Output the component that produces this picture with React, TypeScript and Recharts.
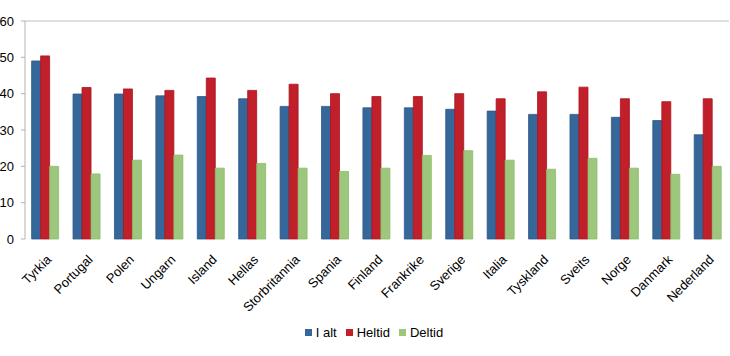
import React from 'react';
import { BarChart, Bar, XAxis, YAxis, Legend, ReferenceLine } from 'recharts';

const categories = ['Tyrkia', 'Portugal', 'Polen', 'Ungarn', 'Island', 'Hellas', 'Storbritannia', 'Spania', 'Finland', 'Frankrike', 'Sverige', 'Italia', 'Tyskland', 'Sveits', 'Norge', 'Danmark', 'Nederland'];
const iAlt = [49.0, 39.9, 39.9, 39.4, 39.2, 38.6, 36.5, 36.5, 36.1, 36.1, 35.7, 35.2, 34.3, 34.3, 33.5, 32.6, 28.7];
const heltid = [50.4, 41.7, 41.3, 40.9, 44.3, 40.9, 42.6, 40.0, 39.2, 39.2, 40.0, 38.6, 40.5, 41.8, 38.6, 37.8, 38.6];
const deltid = [20.0, 17.9, 21.7, 23.1, 19.5, 20.8, 19.5, 18.6, 19.5, 23.0, 24.3, 21.7, 19.2, 22.2, 19.5, 17.8, 20.0];
const yTicks = [0, 10, 20, 30, 40, 50, 60];
const seriesNames = ['I alt', 'Heltid', 'Deltid'];
const colors = ['#35679A', '#C11F2A', '#9DC77C'];
const strokes = ['#2C5886', '#A8141E', '#8DBB6C'];

const data = categories.map((c, i) => ({ name: c, a: iAlt[i], h: heltid[i], d: deltid[i], idx: i + 0.5 }));
const boundaryTicks = categories.map((_, i) => i).concat([categories.length]);

const FONT = 'Liberation Sans, Arial, sans-serif';

const XTick = (props: any) => {
  const { x, y, payload } = props;
  return (
    <g transform={`translate(${x},${y})`}>
      <text x={0} y={0} dx={-5} dy={14} textAnchor="end" transform="rotate(-45)" fontSize={13} fontFamily={FONT} fill="#000">
        {payload.value}
      </text>
    </g>
  );
};

const LegendContent = () => (
  <div style={{ display: 'flex', justifyContent: 'center', alignItems: 'center', fontFamily: FONT, fontSize: 13, color: '#000', paddingLeft: 28 }}>
    {seriesNames.map((n, i) => (
      <div key={n} style={{ display: 'flex', alignItems: 'center', marginRight: 9 }}>
        <span style={{ display: 'inline-block', width: 7, height: 7, background: colors[i], marginRight: 4 }} />
        <span>{n}</span>
      </div>
    ))}
  </div>
);

export default function App() {
  return (
    <div style={{ position: 'absolute', left: 0, top: 0, width: 730, height: 356, background: '#fff' }}>
      <BarChart width={730} height={356} data={data} margin={{ top: 21, right: 1, left: 0, bottom: 0 }} barCategoryGap="16%" barGap={0}>
        <XAxis xAxisId="grid" type="number" dataKey="idx" domain={[0, categories.length]} ticks={boundaryTicks} tick={false} height={0} axisLine={{ stroke: '#B3B3B3' }} tickLine={{ stroke: '#B3B3B3' }} tickSize={4} allowDataOverflow />
        <XAxis dataKey="name" interval={0} height={86} axisLine={false} tickLine={false} tick={<XTick />} />
        <YAxis domain={[0, 60]} ticks={yTicks} width={25} axisLine={{ stroke: '#B3B3B3' }} tickLine={{ stroke: '#B3B3B3' }} tickSize={4} tickMargin={7} tick={{ fontSize: 13, fontFamily: FONT, fill: '#000' }} />
        <ReferenceLine y={60} stroke="#BFBFBF" />
        <Legend verticalAlign="bottom" height={31} content={<LegendContent />} />
        <Bar dataKey="a" name="I alt" fill={colors[0]} stroke={strokes[0]} strokeWidth={0.8} isAnimationActive={false} />
        <Bar dataKey="h" name="Heltid" fill={colors[1]} stroke={strokes[1]} strokeWidth={0.8} isAnimationActive={false} />
        <Bar dataKey="d" name="Deltid" fill={colors[2]} stroke={strokes[2]} strokeWidth={0.8} isAnimationActive={false} />
      </BarChart>
    </div>
  );
}
